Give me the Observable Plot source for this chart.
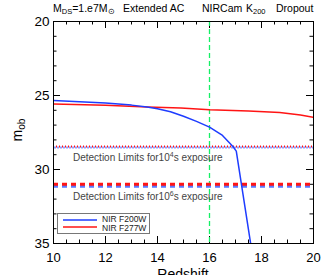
<!DOCTYPE html>
<html>
<head>
<meta charset="utf-8">
<script src="https://cdn.jsdelivr.net/npm/d3@7"></script>
<script src="https://cdn.jsdelivr.net/npm/@observablehq/plot@0.6"></script>
<style>
  html, body { margin: 0; padding: 0; background: white; }
  #chart svg { display: block; }
</style>
</head>
<body>
<div id="chart"></div>
<script>
// Redshift grid of the two NIRCam filter curves
const blueZ = [10, 11, 12, 13, 13.6, 14, 14.5, 15, 15.5, 16, 16.5, 16.9, 17.03, 17.6];
const blueM = [25.34, 25.42, 25.5, 25.65, 25.78, 25.9, 26.1, 26.4, 26.75, 27.14, 27.7, 28.45, 28.76, 35.2];
const redZ = [10, 12, 13.6, 14.9, 16, 17.5, 18.7, 19.5, 20];
const redM = [25.57, 25.66, 25.78, 25.84, 25.96, 26.05, 26.15, 26.32, 26.47];

// Detection limits (10^4 s dotted, 10^6 s dashed)
const limit4Red = 28.45, limit4Blue = 28.52;
const limit6Red = 31.0, limit6Blue = 31.13;

// Vertical marker redshift
const markerZ = [16];

// Axis ticks
const xMajor = [10, 12, 14, 16, 18, 20];
const xMinor = [10.5, 11, 11.5, 12.5, 13, 13.5, 14.5, 15, 15.5, 16.5, 17, 17.5, 18.5, 19, 19.5];
const yMajor = [20, 25, 30, 35];
const yMinor = [21, 22, 23, 24, 26, 27, 28, 29, 31, 32, 33, 34];

const limitLabels = [
  {y: limit4Red, pre: "Detection Limits for10", sup: "4", post: "s exposure", dy: 11},
  {y: limit6Red, pre: "Detection Limits for10", sup: "6", post: "s exposure", dy: 13}
];

const legendNames = ["NIR F200W", "NIR F277W"];

const blueData = blueZ.map((z, i) => ({z, m: blueM[i]}));
const redData = redZ.map((z, i) => ({z, m: redM[i]}));

const BLUE = "#1e3cff", RED = "#ff1414", GREEN = "#14f064";
const W = 330, H = 275, ML = 53, MR = 17, MT = 21, MB = 32;
const FW = W - ML - MR, FH = H - MT - MB;

const chart = Plot.plot({
  width: W, height: H,
  marginLeft: ML, marginRight: MR, marginTop: MT, marginBottom: MB,
  style: {fontFamily: "'Liberation Sans', Arial, sans-serif", background: "white", color: "black"},
  x: {domain: [10, 20]},
  y: {domain: [20, 35], reverse: true},
  marks: [
    Plot.axisX({ticks: xMajor, tickSize: 0, tickPadding: 9, fontSize: 13, label: null, tickFormat: d => d}),
    Plot.axisY({ticks: yMajor, tickSize: 0, tickPadding: 4, fontSize: 13.5, label: null, tickFormat: d => d}),
    // inward ticks
    Plot.tickX(xMajor, {x: d => d, insetTop: FH - 7, stroke: "black"}),
    Plot.tickX(xMajor, {x: d => d, insetBottom: FH - 7, stroke: "black"}),
    Plot.tickX(xMinor, {x: d => d, insetTop: FH - 3.5, stroke: "black"}),
    Plot.tickX(xMinor, {x: d => d, insetBottom: FH - 3.5, stroke: "black"}),
    Plot.tickY(yMajor, {y: d => d, insetRight: FW - 7, stroke: "black"}),
    Plot.tickY(yMajor, {y: d => d, insetLeft: FW - 7, stroke: "black"}),
    Plot.tickY(yMinor, {y: d => d, insetRight: FW - 3.5, stroke: "black"}),
    Plot.tickY(yMinor, {y: d => d, insetLeft: FW - 3.5, stroke: "black"}),
    // vertical green marker
    Plot.ruleX(markerZ, {x: d => d, stroke: GREEN, strokeOpacity: 1, strokeWidth: 1.3, strokeDasharray: "5,3"}),
    // detection limits
    Plot.ruleY([limit4Blue], {y: d => d, stroke: BLUE, strokeWidth: 2, strokeDasharray: "1,2", strokeDashoffset: 1.5}),
    Plot.ruleY([limit4Red], {y: d => d, stroke: RED, strokeWidth: 2, strokeDasharray: "1,2"}),
    Plot.ruleY([limit6Blue], {y: d => d, stroke: "#5a78ff", strokeWidth: 3, strokeDasharray: "5,4"}),
    Plot.ruleY([limit6Red], {y: d => d, stroke: RED, strokeWidth: 3, strokeDasharray: "5,4"}),
    // curves
    Plot.line(redData, {x: "z", y: "m", stroke: RED, strokeWidth: 1.5, clip: true}),
    Plot.line(blueData, {x: "z", y: "m", stroke: BLUE, strokeWidth: 1.5, clip: true}),
    Plot.frame({stroke: "black", strokeWidth: 1})
  ]
});

document.getElementById("chart").appendChild(chart);

const svg = d3.select(chart);
const font = "'Liberation Sans', Arial, sans-serif";
const yScale = chart.scale("y");

// Detection-limit annotations (superscript exponents)
limitLabels.forEach(l => {
  const t = svg.append("text").attr("font-family", font).attr("font-size", 10)
    .attr("fill", "#444").attr("text-anchor", "start")
    .attr("x", ML + 20).attr("y", yScale.apply(l.y) + l.dy + 3.5);
  t.append("tspan").text(l.pre);
  t.append("tspan").attr("font-size", 7).attr("dy", -4).text(l.sup);
  t.append("tspan").attr("dy", 4).text(l.post);
});

// Title (one line, pieces positioned explicitly)
const title = svg.append("text").attr("font-family", font).attr("font-size", 10.5)
  .attr("fill", "black").attr("text-anchor", "start").attr("y", 11.5);
title.append("tspan").attr("x", 53).text("M");
title.append("tspan").attr("font-size", 7.5).attr("dy", 2).text("DS");
title.append("tspan").attr("dy", -2).text("=1.e7M");
title.append("tspan").attr("font-size", 7.5).attr("dy", 2).text("\u2299");
title.append("tspan").attr("x", 123).attr("dy", -2).text("Extended AC");
title.append("tspan").attr("x", 202).text("NIRCam");
title.append("tspan").attr("x", 246).text("K");
title.append("tspan").attr("font-size", 7.5).attr("dy", 2).text("200");
title.append("tspan").attr("x", 276).attr("dy", -2).text("Dropout");

// Y label
const yl = svg.append("text").attr("font-family", font).attr("font-size", 14)
  .attr("transform", "translate(22,130) rotate(-90)").attr("text-anchor", "middle");
yl.append("tspan").text("m");
yl.append("tspan").attr("font-size", 10).attr("dy", 3).text("ob");

// X label
svg.append("text").attr("font-family", font).attr("font-size", 14)
  .attr("x", ML + FW / 2).attr("y", 279).attr("text-anchor", "middle").text("Redshift");

// Legend
const lg = svg.append("g").attr("font-family", font).attr("font-size", 8.5).attr("text-anchor", "start");
lg.append("rect").attr("x", 57.5).attr("y", 213.5).attr("width", 92).attr("height", 20)
  .attr("fill", "white").attr("stroke", "#777");
[BLUE, RED].forEach((c, i) => {
  lg.append("line").attr("x1", 63).attr("x2", 97).attr("y1", 220 + i * 7).attr("y2", 220 + i * 7)
    .attr("stroke", c).attr("stroke-width", 1.3);
  lg.append("text").attr("x", 102).attr("y", 221.5 + i * 9).attr("fill", "#222").text(legendNames[i]);
});
</script>
</body>
</html>
